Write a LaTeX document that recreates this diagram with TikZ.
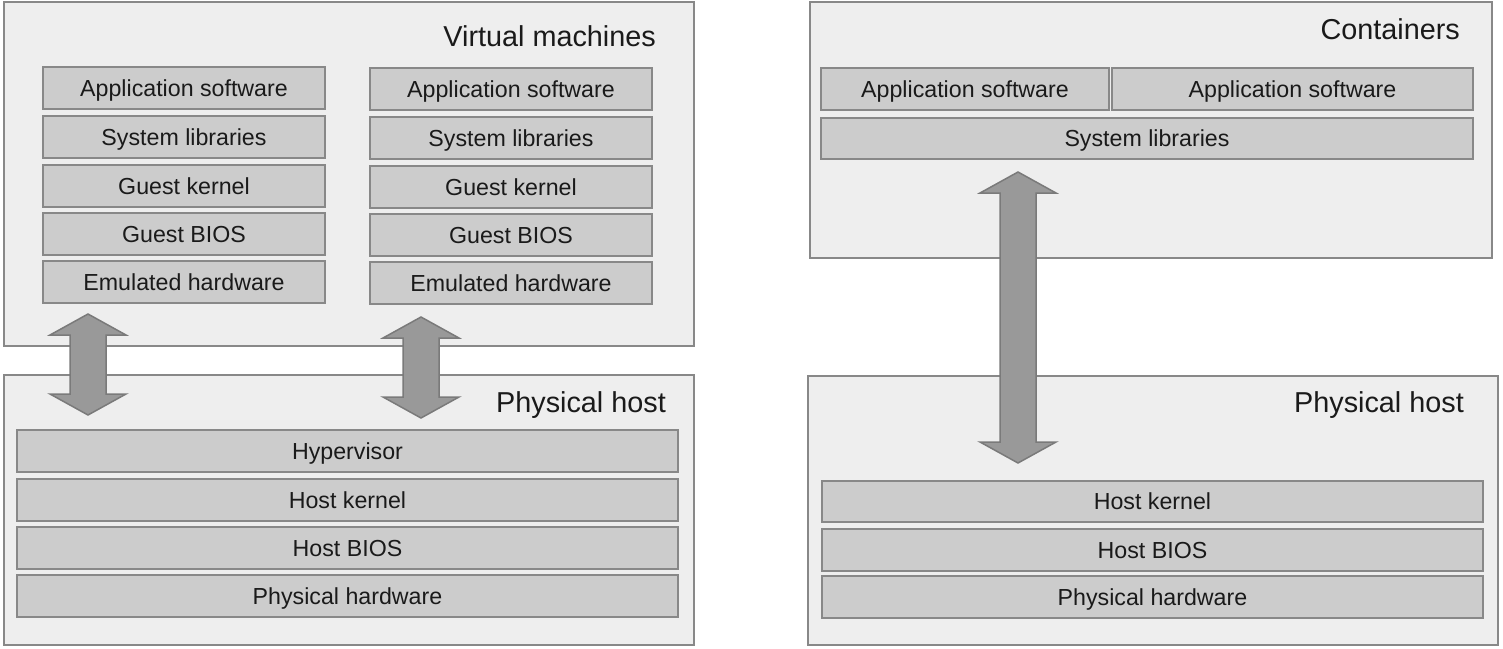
\documentclass[tikz,border=0pt]{standalone}
\usepackage{fontspec}
\setmainfont{Liberation Sans}
\definecolor{outerfill}{HTML}{EEEEEE}
\definecolor{boxline}{HTML}{888888}
\definecolor{layerfill}{HTML}{CCCCCC}
\definecolor{arrowfill}{HTML}{999999}
\definecolor{arrowline}{HTML}{7A7A7A}
\definecolor{txt}{HTML}{1A1A1A}
\begin{document}
\begin{tikzpicture}[x=1pt,y=-1pt,
  outerbox/.style={draw=boxline,fill=outerfill,line width=2pt,anchor=north west,inner sep=0pt,outer sep=0pt},
  layer/.style={draw=boxline,fill=layerfill,line width=2pt,anchor=north west,inner sep=0pt,outer sep=0pt,text=txt,text height=16pt,text depth=0pt,font=\fontsize{23.2}{26}\selectfont},
  title/.style={anchor=base east,inner sep=0pt,text=txt,font=\fontsize{28.8}{32}\selectfont},
  blockarrow/.style={draw=arrowline,fill=arrowfill,line width=1.5pt,line join=miter}]
\useasboundingbox (0,0) rectangle (1503,648);
% outer boxes
\node[outerbox,minimum width=690pt,minimum height=344pt] (vm) at (4,2) {};
\node[outerbox,minimum width=690pt,minimum height=270pt] (phl) at (4,375) {};
\node[outerbox,minimum width=682pt,minimum height=256pt] (ct) at (810,2) {};
\node[outerbox,minimum width=690pt,minimum height=269pt] (phr) at (808,376) {};
% titles
\node[title] (tvm) at (656,46) {Virtual machines};
\node[title] (tphl) at (666,412) {Physical host};
\node[title] (tct) at (1460,39) {Containers};
\node[title] (tphr) at (1464,412) {Physical host};
% VM column 1
\node[layer,minimum width=282pt,minimum height=42pt] (a1) at (43,67) {Application software};
\node[layer,minimum width=282pt,minimum height=42pt] (s1) at (43,116) {System libraries};
\node[layer,minimum width=282pt,minimum height=42pt] (k1) at (43,165) {Guest kernel};
\node[layer,minimum width=282pt,minimum height=42pt] (b1) at (43,213) {Guest BIOS};
\node[layer,minimum width=282pt,minimum height=42pt] (e1) at (43,261) {Emulated hardware};
% VM column 2
\node[layer,minimum width=282pt,minimum height=42pt] (a2) at (370,68) {Application software};
\node[layer,minimum width=282pt,minimum height=42pt] (s2) at (370,117) {System libraries};
\node[layer,minimum width=282pt,minimum height=42pt] (k2) at (370,166) {Guest kernel};
\node[layer,minimum width=282pt,minimum height=42pt] (b2) at (370,214) {Guest BIOS};
\node[layer,minimum width=282pt,minimum height=42pt] (e2) at (370,262) {Emulated hardware};
% left physical host layers
\node[layer,minimum width=661pt,minimum height=42pt] (hv) at (17,430) {Hypervisor};
\node[layer,minimum width=661pt,minimum height=42pt] (hkl) at (17,479) {Host kernel};
\node[layer,minimum width=661pt,minimum height=42pt] (hbl) at (17,527) {Host BIOS};
\node[layer,minimum width=661pt,minimum height=42pt] (hwl) at (17,575) {Physical hardware};
% containers layers
\node[layer,minimum width=288pt,minimum height=42pt] (ca1) at (821,68) {Application software};
\node[layer,minimum width=361pt,minimum height=42pt] (ca2) at (1112,68) {Application software};
\node[layer,minimum width=652pt,minimum height=41pt] (cs) at (821,118) {System libraries};
% right physical host layers
\node[layer,minimum width=661pt,minimum height=41pt] (hkr) at (822,481) {Host kernel};
\node[layer,minimum width=661pt,minimum height=42pt] (hbr) at (822,529) {Host BIOS};
\node[layer,minimum width=661pt,minimum height=42pt] (hwr) at (822,576) {Physical hardware};
% block arrows
\newcommand{\blockarr}[3]{%
  \draw[blockarrow] (#1,#2) -- (#1+38,#2+21) -- (#1+18,#2+21) -- (#1+18,#3-21) -- (#1+38,#3-21)
    -- (#1,#3) -- (#1-38,#3-21) -- (#1-18,#3-21) -- (#1-18,#2+21) -- (#1-38,#2+21) -- cycle;}
\blockarr{88}{314}{415}
\blockarr{421}{317}{418}
\blockarr{1018}{172}{463}
\end{tikzpicture}
\end{document}
